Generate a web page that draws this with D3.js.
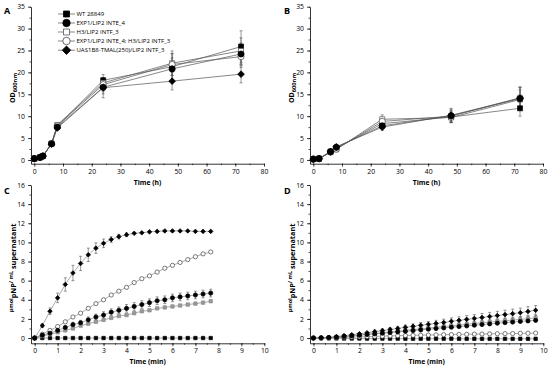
<!DOCTYPE html>
<html>
<head>
<meta charset="utf-8">
<script src="https://cdn.jsdelivr.net/npm/d3@7"></script>
<style>
  body { margin: 0; background: #fff; }
  svg { display: block; }
  text { font-family: "Open Sans", "DejaVu Sans", sans-serif; }
</style>
</head>
<body>
<svg width="550" height="370"></svg>
<script>
// ---- data ----
const seriesNames = ['WT 28849', 'EXP1/LIP2 INTE_4', 'H3/LIP2 INTF_3',
  'EXP1/LIP2 INTE_4; H3/LIP2 INTF_3', 'UAS1B8-TMAL(250)/LIP2 INTF_3'];
const seriesKeys = ['wt', 'exp1', 'h3', 'exp1h3', 'uas'];

// panel A, OD600 vs time (h)
const timeA = [0, 2, 3, 6, 8, 24, 48, 72];
const odA = {
  wt:     [0.3, 0.6, 0.9, 3.7, 7.7, 18.2, 21.3, 25.9],
  exp1:   [0.3, 0.6, 0.9, 3.7, 7.5, 16.6, 20.8, 24.2],
  h3:     [0.3, 0.6, 0.9, 3.7, 8.0, 17.6, 22.1, 24.9],
  exp1h3: [0.3, 0.6, 0.9, 3.7, 7.8, 17.2, 21.8, 23.6],
  uas:    [0.3, 0.6, 0.9, 3.6, 7.3, 16.5, 18.0, 19.6]
};
const odAErr = {
  wt:     [0.1, 0.1, 0.1, 0.3, 0.4, 1.3, 3.0, 3.6],
  exp1:   [0.1, 0.1, 0.1, 0.3, 0.4, 1.5, 2.5, 2.5],
  h3:     [0.1, 0.1, 0.1, 0.3, 0.4, 1.2, 2.8, 3.0],
  exp1h3: [0.1, 0.1, 0.1, 0.3, 0.4, 1.5, 2.5, 2.5],
  uas:    [0.1, 0.1, 0.1, 0.3, 0.4, 2.3, 2.0, 2.0]
};

// panel B, OD600 vs time (h)
const timeB = [0, 2, 6, 8, 24, 48, 72];
const odB = {
  wt:     [0.2, 0.3, 1.9, 2.7, 8.3, 9.8, 11.8],
  exp1:   [0.2, 0.3, 1.9, 2.9, 7.8, 10.1, 14.0],
  h3:     [0.2, 0.3, 1.8, 2.4, 9.3, 9.7, 13.8],
  exp1h3: [0.2, 0.3, 1.8, 2.5, 8.8, 10.0, 14.2],
  uas:    [0.2, 0.3, 1.9, 3.0, 7.5, 10.2, 14.1]
};
const odBErr = {
  wt:     [0.1, 0.1, 0.2, 0.3, 0.8, 1.2, 1.8],
  exp1:   [0.1, 0.1, 0.2, 0.4, 0.8, 1.5, 2.5],
  h3:     [0.1, 0.1, 0.2, 0.3, 1.0, 1.2, 2.2],
  exp1h3: [0.1, 0.1, 0.2, 0.3, 0.9, 1.3, 2.4],
  uas:    [0.1, 0.1, 0.2, 0.5, 0.8, 1.6, 2.6]
};

// panel C, pNP vs time (min)
const timeC = d3.range(24).map(i => i / 3);
const pnpC = {
  wt:     [0, 0, 0, 0, 0, 0, 0, 0, 0, 0, 0, 0, 0, 0, 0, 0, 0, 0, 0, 0, 0, 0, 0, 0],
  exp1:   [0, 0.3, 0.5, 0.8, 1.1, 1.4, 1.6, 1.9, 2.2, 2.4, 2.7, 2.9, 3.1, 3.3, 3.5, 3.7, 3.9, 4.0, 4.2, 4.3, 4.4, 4.5, 4.6, 4.7],
  h3:     [0, 0.2, 0.4, 0.6, 0.8, 1.0, 1.3, 1.5, 1.7, 1.9, 2.1, 2.3, 2.4, 2.6, 2.8, 2.9, 3.1, 3.2, 3.3, 3.4, 3.5, 3.6, 3.7, 3.85],
  exp1h3: [0, 0.4, 0.8, 1.2, 1.7, 2.2, 2.6, 3.1, 3.6, 4.0, 4.5, 4.9, 5.3, 5.8, 6.2, 6.5, 6.9, 7.3, 7.6, 7.9, 8.2, 8.5, 8.8, 9.0],
  uas:    [0, 1.3, 2.8, 4.2, 5.6, 6.8, 7.8, 8.7, 9.4, 9.9, 10.3, 10.6, 10.8, 10.95, 11.0, 11.1, 11.15, 11.2, 11.2, 11.2, 11.2, 11.15, 11.15, 11.15]
};
const pnpCErr = {
  wt:     [0, 0, 0, 0, 0, 0, 0, 0, 0, 0, 0, 0, 0, 0, 0, 0, 0, 0, 0, 0, 0, 0, 0, 0],
  exp1:   [0, 0.05, 0.1, 0.15, 0.2, 0.25, 0.25, 0.3, 0.3, 0.35, 0.35, 0.35, 0.4, 0.4, 0.4, 0.4, 0.4, 0.4, 0.4, 0.4, 0.4, 0.4, 0.4, 0.4],
  h3:     [0, 0.05, 0.05, 0.05, 0.05, 0.05, 0.1, 0.1, 0.1, 0.1, 0.1, 0.1, 0.1, 0.1, 0.1, 0.1, 0.1, 0.1, 0.1, 0.1, 0.1, 0.1, 0.1, 0.1],
  exp1h3: [0, 0.05, 0.05, 0.05, 0.05, 0.05, 0.05, 0.05, 0.05, 0.05, 0.05, 0.05, 0.05, 0.05, 0.05, 0.05, 0.05, 0.05, 0.05, 0.05, 0.05, 0.05, 0.05, 0.05],
  uas:    [0, 0.2, 0.35, 0.5, 0.7, 0.8, 0.75, 0.7, 0.55, 0.45, 0.3, 0.25, 0.2, 0.15, 0.15, 0.15, 0.15, 0.15, 0.15, 0.15, 0.15, 0.15, 0.15, 0.15]
};

// panel D, pNP vs time (min)
const timeD = d3.range(30).map(i => i / 3);
const pnpD = {
  wt:     [0, -0.02, -0.03, -0.04, -0.05, -0.05, -0.05, -0.06, -0.06, -0.06, -0.06, -0.06, -0.07, -0.07, -0.07, -0.07, -0.07, -0.07, -0.07, -0.08, -0.08, -0.08, -0.08, -0.08, -0.08, -0.08, -0.08, -0.08, -0.08, -0.08],
  exp1:   [0, 0.02, 0.05, 0.09, 0.15, 0.22, 0.29, 0.36, 0.43, 0.5, 0.57, 0.64, 0.71, 0.78, 0.85, 0.92, 0.99, 1.06, 1.13, 1.2, 1.27, 1.34, 1.41, 1.48, 1.55, 1.61, 1.67, 1.73, 1.79, 1.85],
  h3:     [0, 0.02, 0.06, 0.1, 0.17, 0.25, 0.32, 0.4, 0.48, 0.56, 0.64, 0.72, 0.8, 0.88, 0.96, 1.04, 1.12, 1.2, 1.28, 1.36, 1.44, 1.52, 1.6, 1.67, 1.74, 1.81, 1.88, 1.95, 2.02, 2.1],
  exp1h3: [0, 0.01, 0.03, 0.05, 0.08, 0.1, 0.13, 0.15, 0.17, 0.2, 0.22, 0.24, 0.26, 0.28, 0.3, 0.31, 0.33, 0.35, 0.36, 0.38, 0.39, 0.41, 0.42, 0.44, 0.45, 0.46, 0.47, 0.49, 0.5, 0.52],
  uas:    [0, 0.03, 0.08, 0.15, 0.25, 0.35, 0.45, 0.55, 0.67, 0.78, 0.9, 1.0, 1.12, 1.22, 1.33, 1.43, 1.53, 1.63, 1.75, 1.85, 1.95, 2.05, 2.15, 2.25, 2.35, 2.45, 2.55, 2.65, 2.78, 2.9]
};
const pnpDErr = {
  wt:     Array(30).fill(0.04),
  exp1:   [0, 0.02, 0.03, 0.04, 0.05, 0.06, 0.07, 0.08, 0.08, 0.09, 0.1, 0.1, 0.1, 0.11, 0.11, 0.12, 0.12, 0.12, 0.13, 0.13, 0.13, 0.14, 0.14, 0.14, 0.15, 0.15, 0.15, 0.15, 0.16, 0.16],
  h3:     [0, 0.02, 0.03, 0.05, 0.06, 0.08, 0.09, 0.1, 0.11, 0.12, 0.13, 0.14, 0.15, 0.16, 0.17, 0.18, 0.19, 0.2, 0.21, 0.22, 0.23, 0.24, 0.25, 0.26, 0.27, 0.28, 0.29, 0.3, 0.3, 0.3],
  exp1h3: Array(30).fill(0.04),
  uas:    [0, 0.03, 0.05, 0.07, 0.09, 0.11, 0.13, 0.15, 0.17, 0.19, 0.21, 0.23, 0.25, 0.27, 0.29, 0.3, 0.32, 0.34, 0.36, 0.37, 0.39, 0.4, 0.42, 0.43, 0.44, 0.46, 0.47, 0.48, 0.5, 0.5]
};

// ---- drawing ----
const svg = d3.select('svg');

// marker look per series
const markerStyle = {
  wt:     { sym: d3.symbolSquare, fill: '#000', stroke: '#000', rot: 0 },
  exp1:   { sym: d3.symbolCircle, fill: '#000', stroke: '#000', rot: 0 },
  h3:     { sym: d3.symbolSquare, fill: '#fff', stroke: '#555', rot: 0 },
  exp1h3: { sym: d3.symbolCircle, fill: '#fff', stroke: '#444', rot: 0 },
  uas:    { sym: d3.symbolSquare, fill: '#000', stroke: '#000', rot: 45 }
};

function panel(cfg) {
  const x = d3.scaleLinear().domain(cfg.xDom).range(cfg.xRange);
  const y = d3.scaleLinear().domain(cfg.yDom).range(cfg.yRange);
  const g = svg.append('g');
  const axisY0 = cfg.yRange[0], axisX0 = cfg.xRange[0];

  // minor ticks
  const gx = g.append('g').attr('transform', `translate(0,${axisY0})`)
    .call(d3.axisBottom(x).tickValues(cfg.xMinor).tickSize(1.5).tickFormat(''));
  const gy = g.append('g').attr('transform', `translate(${axisX0},0)`)
    .call(d3.axisLeft(y).tickValues(cfg.yMinor).tickSize(1.5).tickFormat(''));
  // major ticks
  g.append('g').attr('transform', `translate(0,${axisY0})`)
    .call(d3.axisBottom(x).tickValues(cfg.xTicks).tickSize(3).tickPadding(2).tickSizeOuter(0))
    .call(a => a.selectAll('text').attr('font-size', 6.8));
  g.append('g').attr('transform', `translate(${axisX0},0)`)
    .call(d3.axisLeft(y).tickValues(cfg.yTicks).tickSize(3).tickPadding(3).tickSizeOuter(0))
    .call(a => a.selectAll('text').attr('font-size', 6.8));
  g.selectAll('.domain').attr('stroke', '#000').attr('stroke-width', 0.8);
  g.selectAll('.tick line').attr('stroke', '#000').attr('stroke-width', 0.7);
  [gx, gy].forEach(a => a.select('.domain').remove());

  // titles
  g.append('text').attr('x', cfg.labelPos[0]).attr('y', cfg.labelPos[1])
    .attr('font-size', 9).attr('font-weight', 'bold').text(cfg.label);
  g.append('text').attr('x', (cfg.xRange[0] + cfg.xRange[1]) / 2).attr('y', axisY0 + 21)
    .attr('text-anchor', 'middle').attr('font-size', 6.8).attr('font-weight', 'bold').text(cfg.xTitle);
  const yt = g.append('text')
    .attr('transform', `translate(${axisX0 - 16},${cfg.yTitleY}) rotate(-90)`)
    .attr('text-anchor', 'middle').attr('font-size', cfg.yTitleSize).attr('font-weight', 'bold');
  cfg.yTitle(yt);

  const line = d3.line().x((d, i) => x(cfg.t[i])).y(d => y(d));
  const order = ['wt', 'h3', 'exp1h3', 'exp1', 'uas'];
  order.forEach(k => {
    g.append('path').datum(cfg.vals[k]).attr('d', line)
      .attr('fill', 'none').attr('stroke', cfg.lineColor).attr('stroke-width', 0.7);
  });
  order.forEach(k => {
    const vals = cfg.vals[k], errs = cfg.errs[k];
    const eb = g.append('g').attr('stroke', '#555').attr('stroke-width', 0.6);
    vals.forEach((v, i) => {
      const e = errs[i];
      if (e * Math.abs(y(0) - y(1)) < cfg.markSize * 0.45) return;
      const cx = x(cfg.t[i]);
      eb.append('line').attr('x1', cx).attr('x2', cx).attr('y1', y(v - e)).attr('y2', y(v + e));
      [v - e, v + e].forEach(w => eb.append('line')
        .attr('x1', cx - 1.5).attr('x2', cx + 1.5).attr('y1', y(w)).attr('y2', y(w)));
    });
  });
  order.forEach(k => {
    const st = markerStyle[k];
    let size = cfg.markSize;
    if (k === 'uas') size *= 0.95;
    if (st.sym === d3.symbolCircle) size *= 1.1;
    const sym = d3.symbol().type(st.sym).size(size * size);
    let fill = st.fill, stroke = st.stroke;
    if (cfg.greyOpenSquare && k === 'h3') { fill = '#999'; stroke = '#888'; }
    g.append('g').selectAll('path').data(cfg.vals[k]).join('path')
      .attr('d', sym)
      .attr('transform', (d, i) => `translate(${x(cfg.t[i])},${y(d)}) rotate(${st.rot})`)
      .attr('fill', fill).attr('stroke', stroke).attr('stroke-width', 0.7);
  });
  return { x, y, g };
}

function odTitle(t) {
  t.append('tspan').text('OD');
  t.append('tspan').attr('font-size', 5.8).attr('dy', 2).text('600nm');
}
function pnpTitle(t) {
  t.append('tspan').attr('font-size', 5.5).attr('dy', -2).text('μmol');
  t.append('tspan').attr('dy', 3).text('pNP');
  t.append('tspan').attr('font-size', 5.5).attr('dy', -3).text('/ mL');
  t.append('tspan').attr('dy', 3).text(' supernatant');
}

const odTicks = d3.range(0, 36, 5), odMinor = d3.range(0, 36, 2.5);
panel({ label: 'A', labelPos: [4, 14], t: timeA, vals: odA, errs: odAErr,
  xDom: [-1.15, 80], xRange: [31, 264], yDom: [-0.85, 35], yRange: [163.7, 6.7],
  xTicks: d3.range(0, 81, 10), xMinor: d3.range(0, 81, 5), yTicks: odTicks, yMinor: odMinor,
  xTitle: 'Time (h)', yTitle: odTitle, yTitleY: 88, yTitleSize: 7,
  lineColor: '#555', markSize: 5 });
panel({ label: 'B', labelPos: [284, 14], t: timeB, vals: odB, errs: odBErr,
  xDom: [-1.15, 80], xRange: [310, 543], yDom: [-0.85, 35], yRange: [163.7, 6.7],
  xTicks: d3.range(0, 81, 10), xMinor: d3.range(0, 81, 5), yTicks: odTicks, yMinor: odMinor,
  xTitle: 'Time (h)', yTitle: odTitle, yTitleY: 88, yTitleSize: 7,
  lineColor: '#555', markSize: 5 });

const pTicks = d3.range(0, 17, 2), pMinor = d3.range(0, 16.1, 1);
panel({ label: 'C', labelPos: [4, 194], t: timeC, vals: pnpC, errs: pnpCErr,
  xDom: [-0.16, 10], xRange: [31, 264.3], yDom: [-0.55, 16], yRange: [343.3, 185],
  xTicks: d3.range(0, 11, 1), xMinor: d3.range(0, 10.1, 0.5), yTicks: pTicks, yMinor: pMinor,
  xTitle: 'Time (min)', yTitle: pnpTitle, yTitleY: 268, yTitleSize: 7.3,
  lineColor: '#888', markSize: 3.4, greyOpenSquare: true });
panel({ label: 'D', labelPos: [284, 194], t: timeD, vals: pnpD, errs: pnpDErr,
  xDom: [-0.15, 10], xRange: [310, 543.3], yDom: [-0.55, 16], yRange: [343.3, 185],
  xTicks: d3.range(0, 11, 1), xMinor: d3.range(0, 10.1, 0.5), yTicks: pTicks, yMinor: pMinor,
  xTitle: 'Time (min)', yTitle: pnpTitle, yTitleY: 268, yTitleSize: 7.3,
  lineColor: '#888', markSize: 3.4, greyOpenSquare: true });

// legend in panel A
const legendY = [14, 23, 32, 41, 50.2];
const leg = svg.append('g');
seriesKeys.forEach((k, i) => {
  const st = markerStyle[k];
  const yy = legendY[i];
  leg.append('line').attr('x1', 58).attr('x2', 75).attr('y1', yy).attr('y2', yy)
    .attr('stroke', '#555').attr('stroke-width', 0.7);
  let size = 6;
  if (st.sym === d3.symbolCircle) size *= 1.1;
  leg.append('path').attr('d', d3.symbol().type(st.sym).size(size * size))
    .attr('transform', `translate(66.5,${yy}) rotate(${st.rot})`)
    .attr('fill', st.fill).attr('stroke', st.stroke).attr('stroke-width', 0.8);
  leg.append('text').attr('x', 76.5).attr('y', yy + 2.2).attr('font-size', 6)
    .text(seriesNames[i]);
});
</script>
</body>
</html>
